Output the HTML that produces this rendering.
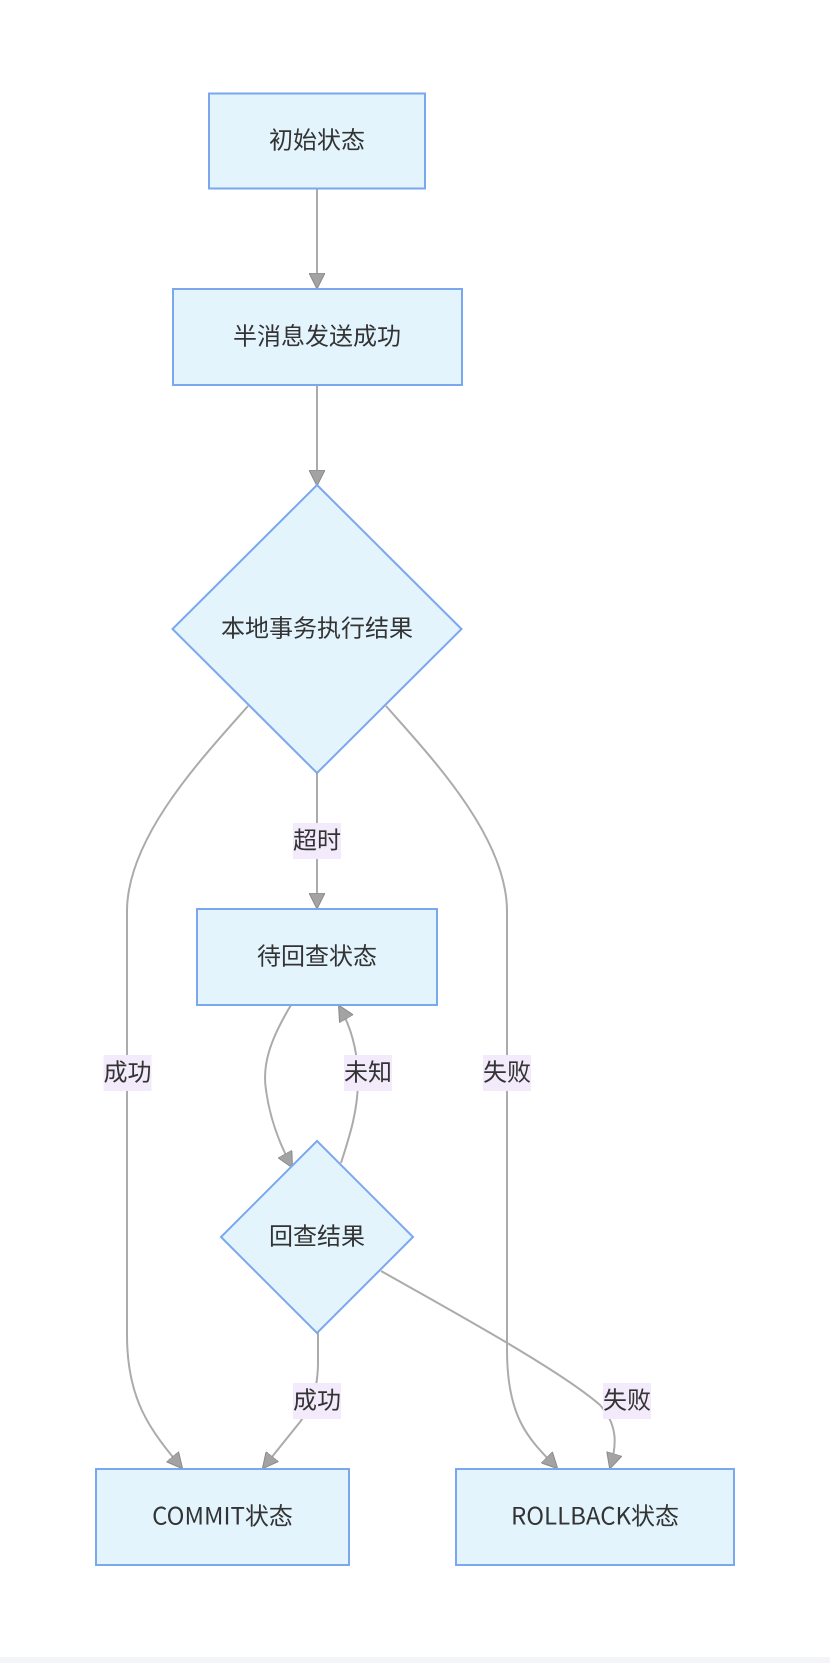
<!DOCTYPE html>
<html>
<head>
<meta charset="utf-8">
<style>
  html, body { margin: 0; padding: 0; background: #ffffff; }
  body { width: 830px; height: 1663px; overflow: hidden; position: relative; }
  svg { position: absolute; left: 0; top: 0; }
  .band { position: absolute; left: 0; top: 1657px; width: 830px; height: 6px; background: #f3f5f8; }
  text { font-family: "Noto Sans CJK SC", "Liberation Sans", sans-serif; font-size: 24px; fill: #333333; }
</style>
</head>
<body>
<svg width="830" height="1663" viewBox="0 0 830 1663" xmlns="http://www.w3.org/2000/svg">
  <defs>
    <marker id="arr" viewBox="0 0 16 16" refX="15" refY="8" markerWidth="16" markerHeight="16" markerUnits="userSpaceOnUse" orient="auto">
      <path d="M0,0 L16,8 L0,16 Z" fill="#a3a3a3" stroke="#8a8a8a" stroke-width="1"/>
    </marker>
  </defs>

  <g fill="none" stroke="#ababab" stroke-width="2">
    <path d="M317,189 L317,288" marker-end="url(#arr)"/>
    <path d="M317,385 L317,485" marker-end="url(#arr)"/>
    <path d="M317,772 L317,908" marker-end="url(#arr)"/>
    <path d="M248,706 C205,755 128,835 127,910 L127,1335 C127,1400 150,1430 182,1468" marker-end="url(#arr)"/>
    <path d="M386,706 C429,755 506,835 507,910 L507,1350 C507,1420 530,1440 557,1468" marker-end="url(#arr)"/>
    <path d="M291,1005 C270,1040 262,1065 266,1090 C270,1120 280,1145 292,1167" marker-end="url(#arr)"/>
    <path d="M341,1163 C350,1135 358,1110 358,1080 C358,1050 350,1025 339,1006" marker-end="url(#arr)"/>
    <path d="M318,1332 L318,1365 C317,1395 310,1408 300,1422 L263,1468" marker-end="url(#arr)"/>
    <path d="M381,1271 C450,1310 560,1370 600,1405 C618,1425 617,1445 610,1468" marker-end="url(#arr)"/>
  </g>

  <g fill="#e3f4fd" stroke="#7aa7ee" stroke-width="2">
    <rect x="209" y="93.5" width="216" height="95"/>
    <rect x="173" y="289" width="289" height="96"/>
    <polygon points="317,485 461.5,629 317,773 172.5,629"/>
    <rect x="197" y="909" width="240" height="96"/>
    <polygon points="317,1141 413,1237 317,1333 221,1237"/>
    <rect x="96" y="1469" width="253" height="96"/>
    <rect x="456" y="1469" width="278" height="96"/>
  </g>

  <g text-anchor="middle" dominant-baseline="central">
    <text x="317" y="138">初始状态</text>
    <text x="317" y="334">半消息发送成功</text>
    <text x="317" y="626">本地事务执行结果</text>
    <text x="317" y="954">待回查状态</text>
    <text x="317" y="1234">回查结果</text>
    <text x="222.5" y="1514">COMMIT状态</text>
    <text x="595" y="1514">ROLLBACK状态</text>
  </g>

  <g fill="#f3ebfb">
    <rect x="293" y="823" width="48" height="36"/>
    <rect x="103.5" y="1055" width="48" height="36"/>
    <rect x="344" y="1055" width="48" height="36"/>
    <rect x="483" y="1055" width="48" height="36"/>
    <rect x="293" y="1383" width="48" height="36"/>
    <rect x="603" y="1383" width="48" height="36"/>
  </g>
  <g text-anchor="middle" dominant-baseline="central">
    <text x="317" y="838">超时</text>
    <text x="127.5" y="1070">成功</text>
    <text x="368" y="1070">未知</text>
    <text x="507" y="1070">失败</text>
    <text x="317" y="1398">成功</text>
    <text x="627" y="1398">失败</text>
  </g>
</svg>
<div class="band"></div>
</body>
</html>
